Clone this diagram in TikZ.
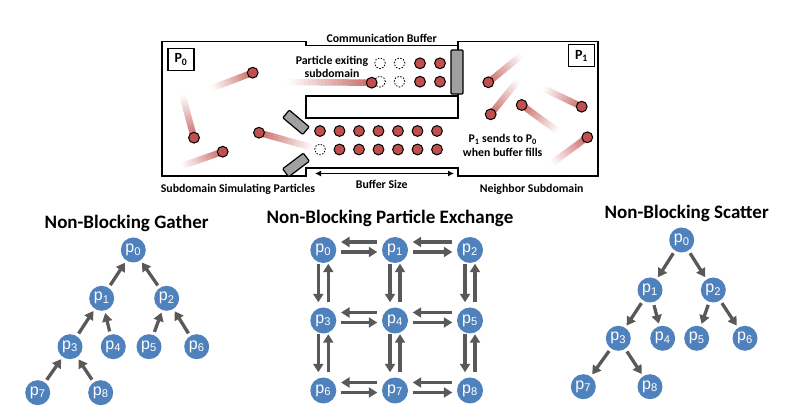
\documentclass[tikz,border=0pt]{standalone}
\usepackage{fontspec}
\setmainfont{Carlito}
\newfontfamily\nodefont{Liberation Sans}
\usetikzlibrary{arrows.meta,calc}
\definecolor{ptred}{HTML}{C0504D}
\definecolor{nodeblue}{HTML}{4F81BD}
\definecolor{arrgray}{HTML}{595959}
\definecolor{flapgray}{HTML}{A0A0A0}
\newcommand\trail[2]{%
  \foreach \i in {0,...,19}{%
    \pgfmathsetmacro\ta{\i/20}%
    \pgfmathsetmacro\tb{(\i+1.2)/20}%
    \pgfmathtruncatemacro\tc{(\i+0.5)*4.3}%
    \draw[line width=6.5pt, ptred!\tc!white] ($#1!\ta!#2$) -- ($#1!\tb!#2$);
  }}
\newcommand\particle[1]{\fill[ptred, draw=black, line width=1pt] #1 circle[radius=5.4pt];}
\newcommand\ghost[1]{\draw[black, line width=0.8pt, dash pattern=on 1.5pt off 1.5pt] #1 circle[radius=5.4pt];}
\tikzset{
  lbl/.style={font=\bfseries\fontsize{11.8}{13}\selectfont, align=center, inner sep=0pt},
  lbl2/.style={font=\bfseries\fontsize{11.8}{14}\selectfont, align=center, inner sep=0pt},
  ttl/.style={font=\bfseries\fontsize{19}{20}\selectfont, inner sep=0pt},
  pnode/.style={circle, fill=nodeblue, text=white, minimum size=25pt, inner sep=0pt, font=\nodefont\fontsize{16}{16}\selectfont},
  gnode/.style={pnode, minimum size=26pt},
  arr/.style={draw=arrgray, line width=3.3pt, -{Triangle[length=8.5pt,width=10pt]}, shorten >=2.5pt, shorten <=3pt},
  harr/.style={draw=arrgray, line width=3.3pt, -{Triangle[length=8.5pt,width=10pt]}, shorten >=4.5pt, shorten <=4.5pt},
  varr/.style={draw=arrgray, line width=3.3pt, -{Triangle[length=8.5pt,width=10pt]}},
  wall/.style={draw=black, line width=1.8pt},
  flap/.style={draw=black, fill=flapgray, line width=1.2pt, rounded corners=1pt},
  plabel/.style={draw, line width=1.5pt, minimum width=26pt, minimum height=22pt, inner sep=0pt, font=\bfseries\fontsize{14}{14}\selectfont}
}
\begin{document}
\begin{tikzpicture}[x=1pt,y=-1pt]
\useasboundingbox (0,0) rectangle (806,411);
% ---------- top diagram: trails ----------
\trail{(211.7,88.3)}{(252.7,72.7)}
\trail{(182.3,95)}{(194,137.7)}
\trail{(181.7,166)}{(222.7,151.7)}
\trail{(314,148)}{(259,132.7)}
\trail{(287,82)}{(371.7,82.7)}
\trail{(521.7,55)}{(488.3,82.3)}
\trail{(518.3,80)}{(490.7,114.3)}
\trail{(558.3,131.7)}{(521.7,105)}
\trail{(543.3,88.3)}{(581.7,106.7)}
\trail{(551.7,163.3)}{(587.3,137.3)}
% ---------- outline ----------
\draw[wall, line join=miter] (162,41.5) -- (306,41.5) -- (306,45.5) -- (458,45.5) -- (458,41.5) -- (598,41.5) -- (598,176) -- (458,176) -- (458,168) -- (306,168) -- (306,176) -- (162,176) -- cycle;
\draw[wall, line join=miter] (458,45.5) -- (458,118) -- (306,118) -- (306,96) -- (458,96);
\draw[flap] (451,50) rectangle (463,94);
\draw[flap, rotate around={-40:(296,122.3)}] (283,117.3) rectangle (309,127.3);
\draw[flap, rotate around={37:(296,165)}] (283,160) rectangle (309,170);
% labels P0 P1
\node[plabel] (lp0) at (181,59.5) {P\textsubscript{0}};
\node[plabel] (lp1) at (581.5,55.7) {P\textsubscript{1}};
% ---------- particles ----------
\particle{(252.7,72.7)}
\particle{(194,137.7)}
\particle{(222.7,151.7)}
\particle{(259,132.7)}
\particle{(488.3,82.3)}
\particle{(490.7,114.3)}
\particle{(521.7,105)}
\particle{(581.7,106.7)}
\particle{(587.3,137.3)}
% upper channel buffer
\ghost{(380,63.3)} \ghost{(399.5,63.3)} \particle{(420,63.3)} \particle{(440,63.3)}
\ghost{(380,81.7)} \ghost{(399.5,81.7)} \particle{(420,81.7)} \particle{(440,81.7)}
\particle{(371.7,82.7)}
% lower channel buffer
\foreach \k in {0,...,6}{\particle{(320+19.5*\k,131)}}
\ghost{(320,149.5)}
\foreach \k in {1,...,6}{\particle{(320+19.5*\k,149.5)}}
% buffer size arrow
\coordinate (bsl) at (315,173.5);
\coordinate (bsr) at (454,173.5);
\draw[{Latex[length=6pt,width=6pt]}-{Latex[length=6pt,width=6pt]}, line width=1.3pt] (bsl) -- (bsr);
% texts
\node[lbl] (t1) at (381.7,38.5) {Communication Buffer};
\node[lbl] (t2) at (332,66.5) {Particle exiting\\subdomain};
\node[lbl2] (t3) at (502.7,145.3) {P\textsubscript{1} sends to P\textsubscript{0}\\when buffer fills};
\node[lbl] (t4) at (381.7,184.5) {Buffer Size};
\node[lbl] (t5) at (238,189) {Subdomain Simulating Particles};
\node[lbl] (t6) at (531.7,189.3) {Neighbor Subdomain};
% ---------- Gather ----------
\node[ttl] (gt) at (126.7,223.3) {Non-Blocking Gather};
\node[pnode] (g0) at (133.3,250) {p\textsubscript{0}};
\node[pnode] (g1) at (101.7,298.3) {p\textsubscript{1}};
\node[pnode] (g2) at (166.7,298.3) {p\textsubscript{2}};
\node[pnode] (g3) at (70,346.7) {p\textsubscript{3}};
\node[pnode] (g4) at (113.3,346.7) {p\textsubscript{4}};
\node[pnode] (g5) at (149,346.7) {p\textsubscript{5}};
\node[pnode] (g6) at (196.7,346.7) {p\textsubscript{6}};
\node[pnode] (g7) at (37.7,392.7) {p\textsubscript{7}};
\node[pnode] (g8) at (100.7,392.7) {p\textsubscript{8}};
\draw[arr] (g1) -- (g0);
\draw[arr] (g2) -- (g0);
\draw[arr] (g3) -- (g1);
\draw[arr] (g4) -- (g1);
\draw[arr] (g5) -- (g2);
\draw[arr] (g6) -- (g2);
\draw[arr] (g7) -- (g3);
\draw[arr] (g8) -- (g3);
% ---------- Scatter ----------
\node[ttl] (st) at (686.7,213.3) {Non-Blocking Scatter};
\node[pnode] (s0) at (681.7,240) {p\textsubscript{0}};
\node[pnode] (s1) at (650,290) {p\textsubscript{1}};
\node[pnode] (s2) at (713.3,290) {p\textsubscript{2}};
\node[pnode] (s3) at (618.3,338.3) {p\textsubscript{3}};
\node[pnode] (s4) at (662.7,338.3) {p\textsubscript{4}};
\node[pnode] (s5) at (696.7,338.3) {p\textsubscript{5}};
\node[pnode] (s6) at (745,338.3) {p\textsubscript{6}};
\node[pnode] (s7) at (583.3,386.7) {p\textsubscript{7}};
\node[pnode] (s8) at (650,386.7) {p\textsubscript{8}};
\draw[arr] (s0) -- (s1);
\draw[arr] (s0) -- (s2);
\draw[arr] (s1) -- (s3);
\draw[arr] (s1) -- (s4);
\draw[arr] (s2) -- (s5);
\draw[arr] (s2) -- (s6);
\draw[arr] (s3) -- (s7);
\draw[arr] (s3) -- (s8);
% ---------- Exchange ----------
\node[ttl] (et) at (390,218.3) {Non-Blocking Particle Exchange};
\node[gnode] (e0) at (323.3,250) {p\textsubscript{0}};
\node[gnode] (e1) at (395,250) {p\textsubscript{1}};
\node[gnode] (e2) at (470,250) {p\textsubscript{2}};
\node[gnode] (e3) at (323.3,320.5) {p\textsubscript{3}};
\node[gnode] (e4) at (395,320.5) {p\textsubscript{4}};
\node[gnode] (e5) at (470,320.5) {p\textsubscript{5}};
\node[gnode] (e6) at (323.3,390.5) {p\textsubscript{6}};
\node[gnode] (e7) at (395,390.5) {p\textsubscript{7}};
\node[gnode] (e8) at (470,390.5) {p\textsubscript{8}};
\foreach \a/\b in {e0/e1,e1/e2,e3/e4,e4/e5,e6/e7,e7/e8}{
  \draw[harr] ([yshift=8pt]\b.west) -- ([yshift=8pt]\a.east);
  \draw[harr] ([yshift=-2pt]\a.east) -- ([yshift=-2pt]\b.west);
}
\foreach \a/\b in {e0/e3,e1/e4,e2/e5,e3/e6,e4/e7,e5/e8}{
  \draw[varr, shorten <=0.5pt, shorten >=5pt] ([xshift=-5pt]\a.south) -- ([xshift=-5pt]\b.north);
  \draw[varr, shorten <=5pt, shorten >=0.5pt] ([xshift=5pt]\b.north) -- ([xshift=5pt]\a.south);
}
\end{tikzpicture}
\end{document}
